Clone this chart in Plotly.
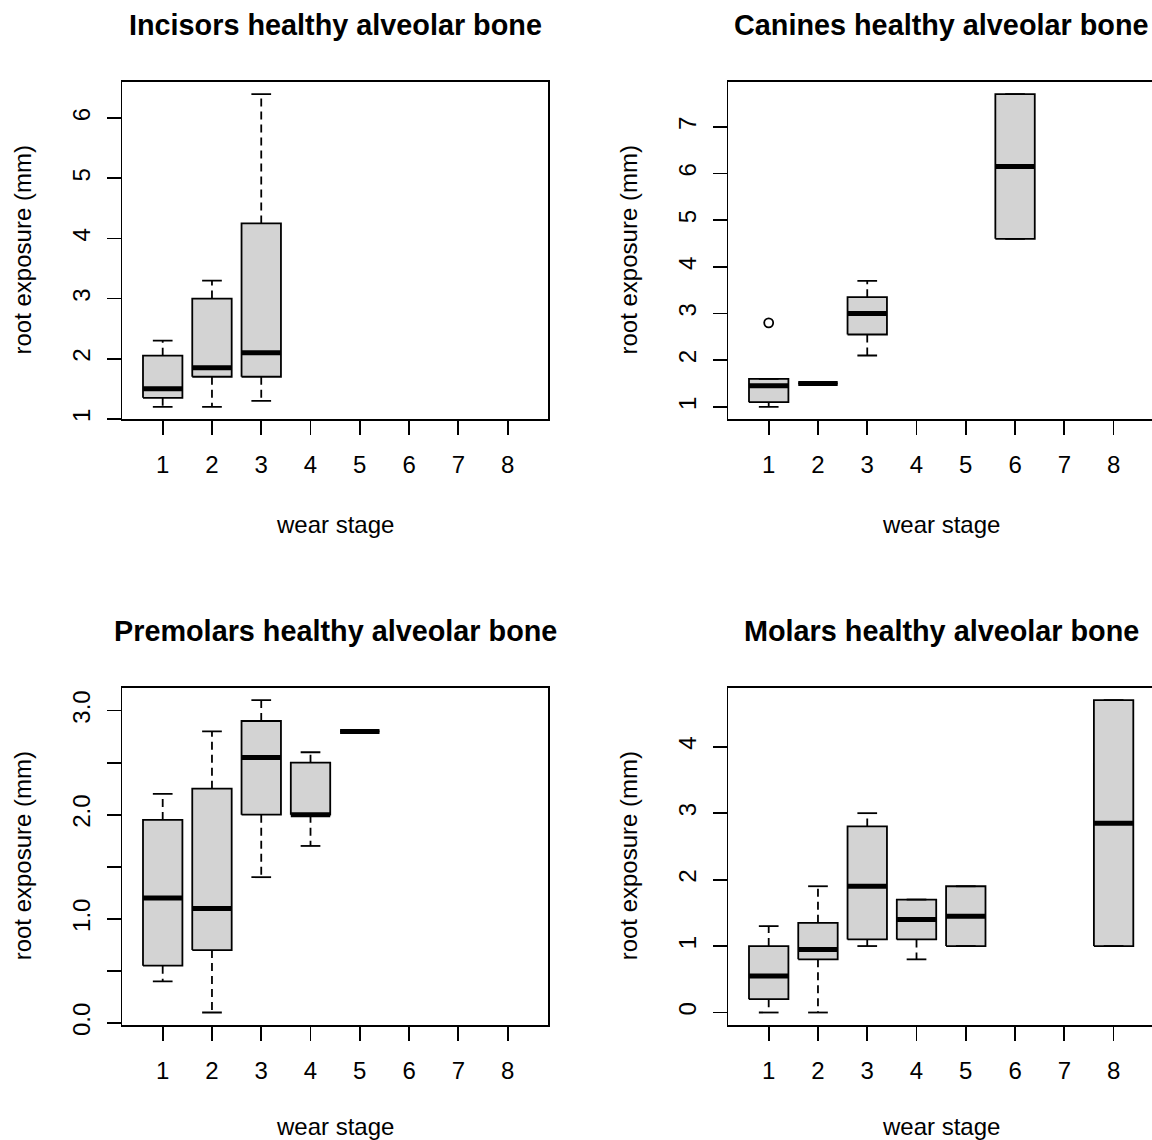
import plotly.graph_objects as go

# ---------------- data ----------------
stage_ticks = [1, 2, 3, 4, 5, 6, 7, 8]
stage_labels = ["1", "2", "3", "4", "5", "6", "7", "8"]

titles = ["Incisors healthy alveolar bone", "Canines healthy alveolar bone",
          "Premolars healthy alveolar bone", "Molars healthy alveolar bone"]
x_title = "wear stage"
y_title = "root exposure (mm)"

inc_stage = [1, 2, 3]
inc_low = [1.2, 1.2, 1.3]
inc_q1 = [1.35, 1.7, 1.7]
inc_med = [1.5, 1.85, 2.1]
inc_q3 = [2.05, 3.0, 4.25]
inc_high = [2.3, 3.3, 6.4]
inc_out_x = []
inc_out_y = []
inc_yticks = [1, 2, 3, 4, 5, 6]
inc_ylabels = ["1", "2", "3", "4", "5", "6"]

can_stage = [1, 2, 3, 6]
can_low = [1.0, 1.5, 2.1, 4.6]
can_q1 = [1.1, 1.5, 2.55, 4.6]
can_med = [1.45, 1.5, 3.0, 6.15]
can_q3 = [1.6, 1.5, 3.35, 7.7]
can_high = [1.6, 1.5, 3.7, 7.7]
can_out_x = [1]
can_out_y = [2.8]
can_yticks = [1, 2, 3, 4, 5, 6, 7]
can_ylabels = ["1", "2", "3", "4", "5", "6", "7"]

pre_stage = [1, 2, 3, 4, 5]
pre_low = [0.4, 0.1, 1.4, 1.7, 2.8]
pre_q1 = [0.55, 0.7, 2.0, 2.0, 2.8]
pre_med = [1.2, 1.1, 2.55, 2.0, 2.8]
pre_q3 = [1.95, 2.25, 2.9, 2.5, 2.8]
pre_high = [2.2, 2.8, 3.1, 2.6, 2.8]
pre_out_x = []
pre_out_y = []
pre_yticks = [0.0, 0.5, 1.0, 1.5, 2.0, 2.5, 3.0]
pre_ylabels = ["0.0", "", "1.0", "", "2.0", "", "3.0"]

mol_stage = [1, 2, 3, 4, 5, 8]
mol_low = [0.0, 0.0, 1.0, 0.8, 1.0, 1.0]
mol_q1 = [0.2, 0.8, 1.1, 1.1, 1.0, 1.0]
mol_med = [0.55, 0.95, 1.9, 1.4, 1.45, 2.85]
mol_q3 = [1.0, 1.35, 2.8, 1.7, 1.9, 4.7]
mol_high = [1.3, 1.9, 3.0, 1.7, 1.9, 4.7]
mol_out_x = []
mol_out_y = []
mol_yticks = [0, 1, 2, 3, 4]
mol_ylabels = ["0", "1", "2", "3", "4"]

panels = [
    (inc_stage, inc_low, inc_q1, inc_med, inc_q3, inc_high, inc_out_x, inc_out_y, inc_yticks, inc_ylabels),
    (can_stage, can_low, can_q1, can_med, can_q3, can_high, can_out_x, can_out_y, can_yticks, can_ylabels),
    (pre_stage, pre_low, pre_q1, pre_med, pre_q3, pre_high, pre_out_x, pre_out_y, pre_yticks, pre_ylabels),
    (mol_stage, mol_low, mol_q1, mol_med, mol_q3, mol_high, mol_out_x, mol_out_y, mol_yticks, mol_ylabels),
]

# ---------------- layout geometry ----------------
W, H = 1152, 1140
BOXW = 0.8
STAPLE = 0.4
FONT = "Liberation Sans, Arial, sans-serif"
LW = 1.8

# plot-region pixel boxes (left, right, top, bottom)
px_left = [(122.3, 548.0), (728.3, 1152.0)]
px_rows = [(81.7, 419.3), (687.7, 1025.0)]
xlab_offset = [105, 101]
px_per_unit = (548.0 - 122.3) / 8.64
x0 = 0.5 - 0.04 * 8

fig = go.Figure()
layout = dict(width=W, height=H, autosize=False, margin=dict(l=0, r=0, t=0, b=0, pad=0),
              paper_bgcolor="white", plot_bgcolor="white", showlegend=False)
annotations = []

for i, (st, lo, q1, md, q3, hi, ox, oy, yt, yl) in enumerate(panels):
    row, col = divmod(i, 2)
    xa = "x" if i == 0 else f"x{i+1}"
    ya = "y" if i == 0 else f"y{i+1}"
    L, R = px_left[col]
    T, B = px_rows[row]
    x1 = x0 + (R - L) / px_per_unit

    # box polygons
    bx, by = [], []
    for s, a, b in zip(st, q1, q3):
        bx += [s - BOXW / 2, s + BOXW / 2, s + BOXW / 2, s - BOXW / 2, s - BOXW / 2, None]
        by += [a, a, b, b, a, None]
    fig.add_trace(go.Scatter(x=bx, y=by, xaxis=xa, yaxis=ya, mode="lines", fill="toself",
                             fillcolor="#D3D3D3", line=dict(color="black", width=LW),
                             hoverinfo="skip"))
    # whiskers (dashed)
    wx, wy = [], []
    for s, l, a, b, h in zip(st, lo, q1, q3, hi):
        if h > b:
            wx += [s, s, None]
            wy += [b, h, None]
        if l < a:
            wx += [s, s, None]
            wy += [a, l, None]
    if wx:
        fig.add_trace(go.Scatter(x=wx, y=wy, xaxis=xa, yaxis=ya, mode="lines",
                                 line=dict(color="black", width=LW, dash="8px,5px"),
                                 hoverinfo="skip"))
    # staples
    sx, sy = [], []
    for s, l, h in zip(st, lo, hi):
        sx += [s - STAPLE / 2, s + STAPLE / 2, None, s - STAPLE / 2, s + STAPLE / 2, None]
        sy += [h, h, None, l, l, None]
    fig.add_trace(go.Scatter(x=sx, y=sy, xaxis=xa, yaxis=ya, mode="lines",
                             line=dict(color="black", width=LW), hoverinfo="skip"))
    # medians
    mx, my = [], []
    for s, m in zip(st, md):
        mx += [s - BOXW / 2, s + BOXW / 2, None]
        my += [m, m, None]
    fig.add_trace(go.Scatter(x=mx, y=my, xaxis=xa, yaxis=ya, mode="lines",
                             line=dict(color="black", width=5), hoverinfo="skip"))
    # outliers
    if ox:
        fig.add_trace(go.Scatter(x=ox, y=oy, xaxis=xa, yaxis=ya, mode="markers",
                                 marker=dict(symbol="circle-open", size=9, color="black",
                                             line=dict(width=LW)),
                                 hoverinfo="skip"))

    allv = lo + hi + oy
    ymin, ymax = min(allv), max(allv)
    pad = 0.04 * (ymax - ymin)

    xkey = "xaxis" if i == 0 else f"xaxis{i+1}"
    ykey = "yaxis" if i == 0 else f"yaxis{i+1}"
    layout[xkey] = dict(domain=[L / W, R / W], anchor=ya, range=[x0, x1],
                        tickmode="array", tickvals=stage_ticks, ticktext=stage_labels,
                        ticks="outside", ticklen=14, tickwidth=LW, tickcolor="black",
                        showline=True, linecolor="black", linewidth=LW, mirror=True,
                        showgrid=False, zeroline=False, ticklabelstandoff=9,
                        automargin=False,
                        tickfont=dict(family=FONT, size=24, color="black"),
                        fixedrange=True)
    layout[ykey] = dict(domain=[1 - B / H, 1 - T / H], anchor=xa,
                        range=[ymin - pad, ymax + pad],
                        tickmode="array", tickvals=yt, ticktext=yl, tickangle=-90,
                        ticks="outside", ticklen=14, tickwidth=LW, tickcolor="black",
                        showline=True, linecolor="black", linewidth=LW,
                        mirror=(col == 0), automargin=False,
                        showgrid=False, zeroline=False, ticklabelstandoff=7,
                        tickfont=dict(family=FONT, size=24, color="black"),
                        fixedrange=True)

    cx = (L + (L + 8.64 * px_per_unit)) / 2
    annotations.append(dict(text=f"<b>{titles[i]}</b>", xref="paper", yref="paper",
                            x=cx / W, y=1 - (T - 57) / H, xanchor="center", yanchor="middle",
                            showarrow=False, font=dict(family=FONT, size=28.8, color="black")))
    annotations.append(dict(text=x_title, xref="paper", yref="paper",
                            x=cx / W, y=1 - (B + xlab_offset[row]) / H, xanchor="center",
                            yanchor="middle", showarrow=False,
                            font=dict(family=FONT, size=24, color="black")))
    annotations.append(dict(text=y_title, xref="paper", yref="paper", textangle=-90,
                            x=(L - 100.3) / W, y=1 - (T + B) / 2 / H, xanchor="center",
                            yanchor="middle", showarrow=False,
                            font=dict(family=FONT, size=24, color="black")))

layout["annotations"] = annotations
fig.update_layout(**layout)
page_css = ("var d=document.documentElement;d.style.margin='0';d.style.padding='0';"
            "d.style.overflow='hidden';d.style.height='1140px';"
            "var b=document.body;b.style.margin='0';b.style.padding='0';"
            "b.style.overflow='hidden';b.style.height='1140px';")
fig.write_html("out.html", config={"displayModeBar": False, "staticPlot": True},
               post_script=page_css)
